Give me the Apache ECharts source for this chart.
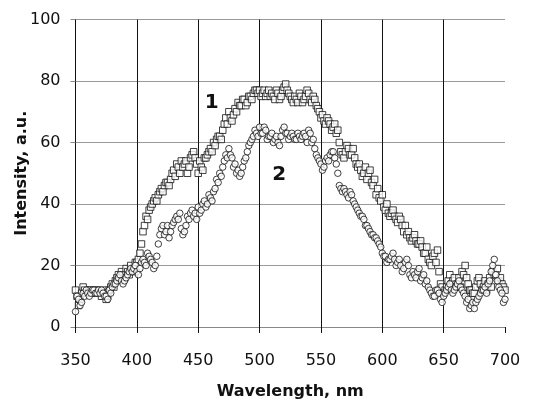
<!DOCTYPE html>
<html>
<head>
<meta charset="utf-8">
<script src="https://cdn.jsdelivr.net/npm/echarts@6/dist/echarts.min.js"></script>
<style>html,body{margin:0;padding:0;background:#fff}#c{width:546px;height:400px}</style>
</head>
<body>
<div id="c"></div>
<script>
// Wavelength sampling grids (nm)
const wlStartA = 350;     // samples 350, 352.5, ... 700
const wlStartB = 351.25;  // samples 351.25, 353.75, ... 698.75
const wlStep = 2.5;
const xTicks = [350, 400, 450, 500, 550, 600, 650, 700];
const yTicks = [0, 20, 40, 60, 80, 100];

// Curve 1 (squares), intensity a.u.
const curve1a = [
  12,7,11,12,11,12,11,12,11,12,
  9,12,14,15,17,18,16,18,20,19,
  21,24,31,36,38,40,42,43,45,46,
  47,48,51,53,50,52,54,52,56,55,
  50,52,55,56,58,60,61,62,64,68,
  70,67,71,73,72,74,73,75,76,77,
  77,76,75,77,76,74,76,75,78,77,
  75,73,74,76,73,75,76,73,74,71,
  68,67,68,66,65,63,60,56,57,58,
  56,55,52,51,50,48,51,46,43,42,
  43,38,37,37,36,34,35,31,30,29,
  29,28,27,26,24,22,20,24,25,14,
  11,13,17,15,13,16,18,20,14,12,
  11,15,14,13,12,16,18,17,15,14,
  12
];
const curve1b = [
  10,9,13,11,12,11,12,11,10,11,
  10,13,13,16,16,17,19,17,18,21,
  22,27,33,35,39,41,41,44,44,47,
  46,50,49,52,54,53,50,55,57,53,
  54,51,55,57,57,59,62,61,66,66,
  68,69,70,72,74,72,75,74,77,76,
  75,77,76,75,75,77,74,77,79,76,
  74,75,73,75,74,77,74,75,72,70,
  69,66,67,64,66,64,57,55,59,56,
  58,53,53,49,52,50,47,48,45,41,
  39,40,36,38,35,36,33,33,31,28,
  30,27,28,24,26,21,23,21,18,13,
  12,15,14,16,14,13,17,16,12,11,
  13,16,12,15,14,13,17,19,16,13
];

// Curve 2 (circles)
const curve2a = [
  5,9,8,10,11,11,12,11,11,11,
  10,12,13,14,16,15,15,17,19,19,
  18,19,22,20,23,21,20,27,32,30,
  33,31,34,36,37,30,33,35,38,37,
  39,38,41,40,42,44,48,50,52,56,
  58,55,53,51,50,54,57,60,62,63,
  65,63,64,62,63,61,60,62,65,63,
  62,62,61,62,62,62,64,60,58,55,
  53,52,55,56,57,53,46,44,44,42,
  43,40,38,36,35,33,31,30,29,27,
  24,23,22,23,22,21,20,19,22,17,
  18,16,19,16,14,13,11,10,12,9,
  10,12,14,11,13,15,12,10,9,7,
  6,9,11,12,11,15,20,17,13,11,
  9
];
const curve2b = [
  10,7,11,12,10,12,11,12,12,10,
  9,11,14,15,17,14,16,18,18,20,
  17,21,21,24,22,19,23,30,33,31,
  29,33,35,35,32,31,36,37,36,35,
  37,40,39,43,41,45,47,49,54,55,
  56,52,50,49,52,55,59,61,64,62,
  63,65,61,62,60,62,59,64,63,61,
  63,61,63,61,63,60,63,61,56,54,
  51,54,54,57,55,50,45,45,43,44,
  41,39,37,36,33,32,30,29,28,26,
  23,21,22,24,20,22,18,21,20,16,
  17,18,15,17,15,12,10,12,11,8,
  11,13,12,12,14,13,11,8,6,8,
  8,10,12,13,14,18,22,15,12,8
];

const curveLabels = ['1', '2'];
const labelPos1 = [461, 73];
const labelPos2 = [516, 49.5];

function pairs(start, arr) {
  return arr.map((v, i) => [start + i * wlStep, v]);
}
function merged(a, b) {
  return pairs(wlStartA, a).concat(pairs(wlStartB, b)).sort((p, q) => p[0] - q[0]);
}

const chart = echarts.init(document.getElementById('c'), null, {renderer: 'canvas'});
const font = 'DejaVu Sans, sans-serif';
function tag(text, pos) {
  return {
    symbol: 'circle', symbolSize: 1,
    itemStyle: {color: 'rgba(0,0,0,0)'},
    data: [{coord: pos}],
    label: {show: true, position: 'inside', formatter: text, fontFamily: font, fontSize: 20, fontWeight: 'bold', color: '#111'}
  };
}
chart.setOption({
  animation: false,
  backgroundColor: '#fff',
  grid: {left: 75.5, right: 41, top: 19.5, bottom: 73, containLabel: false, outerBoundsMode: 'none'},
  xAxis: {
    type: 'value', min: 350, max: 700, interval: 50,
    name: 'Wavelength, nm', nameLocation: 'middle', nameGap: 57, nameMoveOverlap: false,
    nameTextStyle: {fontFamily: font, fontSize: 16, fontWeight: 'bold', color: '#111'},
    axisLine: {show: true, onZero: false, lineStyle: {color: '#888', width: 1}},
    axisTick: {show: true, inside: false, length: 6, lineStyle: {color: '#111'}},
    axisLabel: {fontFamily: font, fontSize: 16, color: '#111', margin: 26},
    splitLine: {show: true, showMaxLine: false, lineStyle: {color: '#111', width: 1}}
  },
  yAxis: {
    type: 'value', min: 0, max: 100, interval: 20,
    name: 'Intensity, a.u.', nameLocation: 'middle', nameGap: 46, nameMoveOverlap: false,
    nameTextStyle: {fontFamily: font, fontSize: 16, fontWeight: 'bold', color: '#111'},
    axisLine: {show: true, lineStyle: {color: '#111', width: 1}},
    axisTick: {show: true, inside: false, length: 5, lineStyle: {color: '#888'}},
    axisLabel: {fontFamily: font, fontSize: 16, color: '#111', margin: 15},
    splitLine: {show: true, lineStyle: {color: '#999', width: 1}}
  },
  series: [
    {
      type: 'scatter', name: curveLabels[0], data: merged(curve1a, curve1b),
      symbol: 'rect', symbolSize: 6.5,
      itemStyle: {color: '#fff', borderColor: '#111', borderWidth: 1},
      markPoint: tag(curveLabels[0], labelPos1)
    },
    {
      type: 'scatter', name: curveLabels[1], data: merged(curve2a, curve2b),
      symbol: 'circle', symbolSize: 6.5,
      itemStyle: {color: '#fff', borderColor: '#111', borderWidth: 1},
      markPoint: tag(curveLabels[1], labelPos2)
    }
  ]
});
</script>
</body>
</html>
